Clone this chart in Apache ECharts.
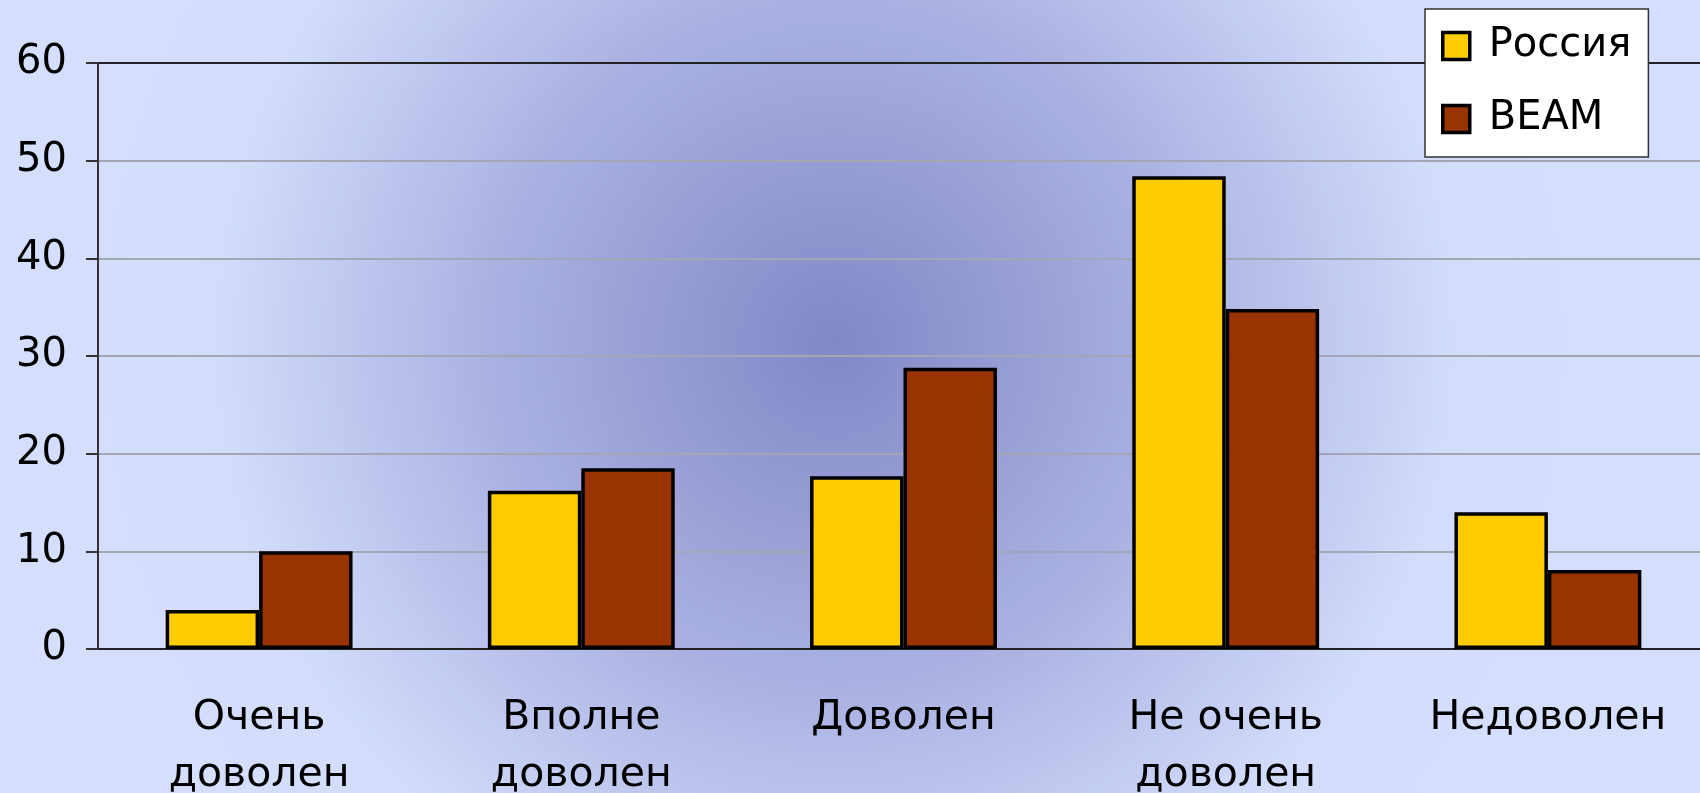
<!DOCTYPE html>
<html>
<head>
<meta charset="utf-8">
<script src="https://cdn.jsdelivr.net/npm/echarts@6/dist/echarts.min.js"></script>
<style>
  html, body { margin: 0; padding: 0; }
  #chart { width: 1700px; height: 793px; }
</style>
</head>
<body>
<div id="chart"></div>
<script>
const categories = ['Очень\nдоволен', 'Вполне\nдоволен', 'Доволен', 'Не очень\nдоволен', 'Недоволен'];
const seriesNames = ['Россия', 'ВЕАМ'];
const russia = [4, 16.2, 17.7, 48.4, 14];
const veam = [10, 18.5, 28.8, 34.8, 8.1];
const yTicks = { min: 0, max: 60, interval: 10 };

const FONT = 'DejaVu Sans';
const chart = echarts.init(document.getElementById('chart'));

const option = {
  animation: false,
  graphic: [{
    type: 'rect',
    z: -100,
    silent: true,
    shape: { x: 0, y: 0, width: 1700, height: 793 },
    style: {
      fill: {
        type: 'radial', x: 0.491, y: 0.431, r: 0.96,
        colorStops: [
          { offset: 0, color: '#8288c6' },
          { offset: 0.45, color: '#aab1e2' },
          { offset: 0.82, color: '#d3ddfb' },
          { offset: 1, color: '#d5dffd' }
        ]
      }
    }
  }],
  grid: {
    left: 98, right: -9, top: 63, bottom: 144,
    containLabel: false, outerBoundsMode: 'none'
  },
  legend: {
    orient: 'vertical',
    left: 1425,
    top: 9,
    data: seriesNames,
    backgroundColor: '#ffffff',
    borderColor: '#333333',
    borderWidth: 1.5,
    padding: [14, 17, 15, 16],
    itemWidth: 27,
    itemHeight: 27,
    itemGap: 27,
    icon: 'rect',
    itemStyle: { borderColor: '#000', borderWidth: 3.5 },
    textStyle: {
      fontFamily: FONT, fontSize: 40, color: '#000', lineHeight: 46,
      padding: [0, 0, 0, 14]
    }
  },
  xAxis: {
    type: 'category',
    data: categories,
    axisLine: { lineStyle: { color: '#222', width: 2 } },
    axisTick: { length: 11, lineStyle: { color: '#222', width: 2 } },
    axisLabel: {
      fontFamily: FONT, fontSize: 41, color: '#000', lineHeight: 57,
      margin: 41, interval: 0
    },
    splitLine: { show: false }
  },
  yAxis: {
    type: 'value',
    min: yTicks.min, max: yTicks.max, interval: yTicks.interval,
    axisLine: { show: true, lineStyle: { color: '#333', width: 2 } },
    axisTick: { show: true, length: 12, lineStyle: { color: '#333', width: 2 } },
    axisLabel: { fontFamily: FONT, fontSize: 40, color: '#000', margin: 31 },
    splitLine: {
      show: true,
      lineStyle: {
        color: ['#a4a6b4', '#a4a6b4', '#a4a6b4', '#a4a6b4', '#a4a6b4', '#a4a6b4', '#222'],
        width: 2
      }
    }
  },
  series: [
    {
      name: seriesNames[0], type: 'bar', data: russia,
      barGap: '0%', barCategoryGap: '42%',
      itemStyle: { color: '#ffcc00', borderColor: '#000', borderWidth: 3.5 }
    },
    {
      name: seriesNames[1], type: 'bar', data: veam,
      barGap: '0%', barCategoryGap: '42%',
      itemStyle: { color: '#993300', borderColor: '#000', borderWidth: 3.5 }
    }
  ]
};
chart.setOption(option);
</script>
</body>
</html>
